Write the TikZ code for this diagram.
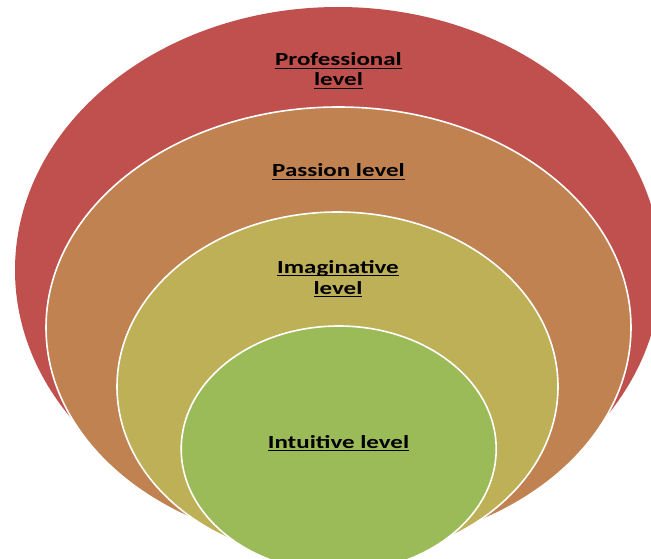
\documentclass[tikz,border=0pt]{standalone}
\usepackage{graphicx}
\usepackage{fontspec}
\setmainfont{Carlito}
\definecolor{lvred}{HTML}{C0504D}
\definecolor{lvorange}{HTML}{C08250}
\definecolor{lvyellow}{HTML}{BEB057}
\definecolor{lvgreen}{HTML}{9BBB59}
\newcommand\ulx[1]{\setbox0=\hbox{#1}\rlap{\copy0}\rule[-3.4pt]{\wd0}{1.6pt}}
\newcommand\lvtext[1]{\scalebox{1.35}[1]{\ulx{#1}}}
\tikzset{
  ring/.style={draw=white, line width=1.6pt},
  lvlabel/.style={anchor=base, inner sep=0pt, text=black,
    font=\fontsize{18.5}{21}\selectfont\bfseries}
}
\begin{document}
\begin{tikzpicture}[x=1pt,y=-1pt]
\useasboundingbox[fill=white] (0,0) rectangle (651,559);
\begin{scope}
\clip (0,0) rectangle (651,559);
\fill[lvred] (338,270) ellipse [x radius=323, y radius=263];
\filldraw[ring, fill=lvorange] (338.5,327.6) ellipse [x radius=292.5, y radius=220.6];
\filldraw[ring, fill=lvyellow] (337.5,386.6) ellipse [x radius=220.5, y radius=174.6];
\filldraw[ring, fill=lvgreen] (338.7,449) ellipse [x radius=157.5, y radius=123];
\end{scope}
\node[lvlabel] (prof1) at (338.5,66) {\lvtext{Professional}};
\node[lvlabel] (prof2) at (338.5,86) {\lvtext{level}};
\node[lvlabel] (pass) at (338.5,177) {\lvtext{Passion level}};
\node[lvlabel] (imag1) at (338,273) {\lvtext{Imaginative}};
\node[lvlabel] (imag2) at (338,294) {\lvtext{level}};
\node[lvlabel] (intu) at (338.5,448) {\lvtext{Intuitive level}};
\end{tikzpicture}
\end{document}
